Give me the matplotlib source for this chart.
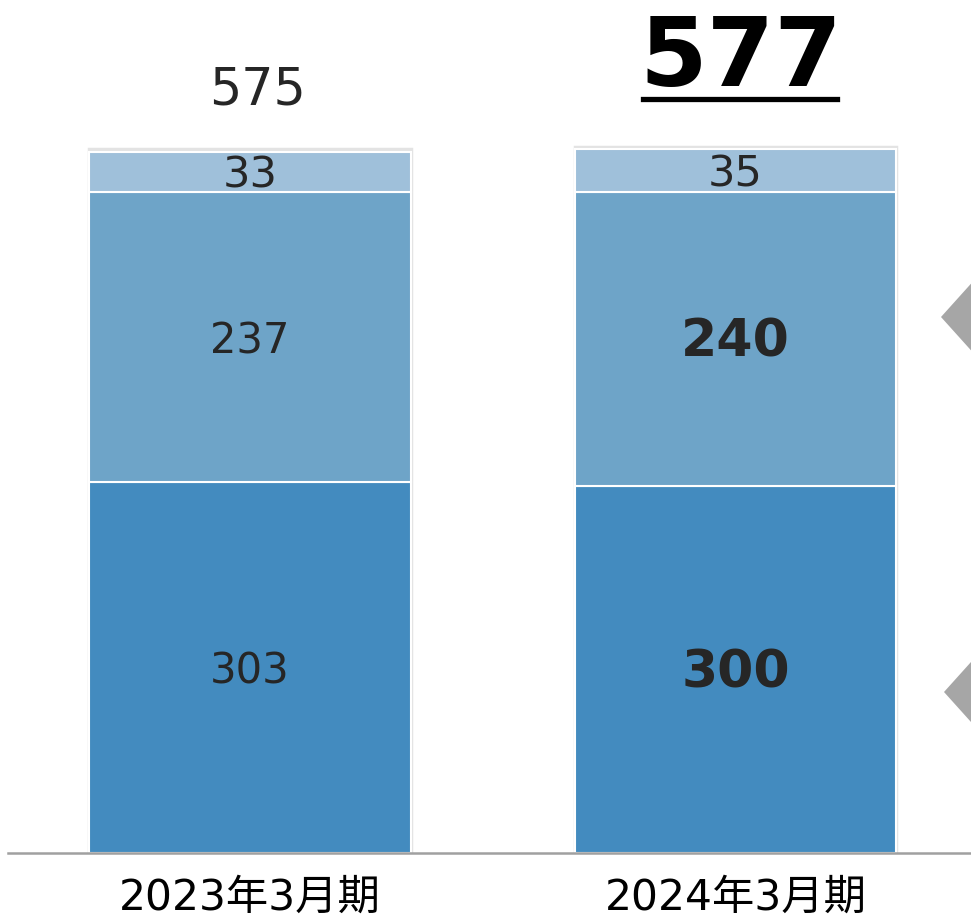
import matplotlib
matplotlib.use("Agg")
import matplotlib.pyplot as plt
from matplotlib.patches import Polygon
from matplotlib.lines import Line2D
from matplotlib.transforms import offset_copy

categories = ["2023年3月期", "2024年3月期"]
bottom_vals = [303, 300]
middle_vals = [237, 240]
top_vals = [33, 35]
totals = [575, 577]

colors = ["#438BBF", "#6EA4C8", "#9FC0DA"]
plt.rcParams['font.family'] = ['DejaVu Sans', 'Noto Sans CJK JP']

W, H = 971, 918
fig = plt.figure(figsize=(W / 100, H / 100), dpi=100)
ax = fig.add_axes([8 / W, 65 / H, 1 - 8 / W, 853 / H])

x = [0, 1]
width = 0.663

# soft outline behind bars
ax.bar(x, totals, width, color='none', edgecolor='#E3E3E3', linewidth=2.5, zorder=1.5)
b1 = ax.bar(x, bottom_vals, width, color=colors[0], edgecolor='white', linewidth=1.5, zorder=2)
b2 = ax.bar(x, middle_vals, width, bottom=bottom_vals, color=colors[1], edgecolor='white', linewidth=1.5, zorder=2)
mid_top = [a + b for a, b in zip(bottom_vals, middle_vals)]
b3 = ax.bar(x, top_vals, width, bottom=mid_top, color=colors[2], edgecolor='white', linewidth=1.5, zorder=2)

txt_color = '#262626'
down = offset_copy(ax.transData, fig=fig, x=0, y=-4, units='dots')
for i in x:
    bold = 'bold' if i == 1 else 'normal'
    fs = 30 if i == 0 else 37.5
    ax.text(i, bottom_vals[i] / 2, str(bottom_vals[i]), ha='center', va='center',
            fontsize=fs, color=txt_color, fontweight=bold, transform=down, zorder=3)
    ax.text(i, bottom_vals[i] + middle_vals[i] / 2, str(middle_vals[i]), ha='center', va='center',
            fontsize=fs, color=txt_color, fontweight=bold, transform=down, zorder=3)
    ax.text(i, mid_top[i] + top_vals[i] / 2, str(top_vals[i]), ha='center', va='center',
            fontsize=31, color=txt_color, transform=down, zorder=3)

ax.annotate(str(totals[0]), xy=(0, totals[0]), xytext=(5, 32), textcoords='offset points',
            ha='center', va='baseline', fontsize=36.5, color=txt_color)
t2 = ax.annotate(str(totals[1]), xy=(1, totals[1]), xytext=(3.6, 44), textcoords='offset points',
                 ha='center', va='baseline', fontsize=70, fontweight='bold', color='black')

ax.set_xlim(-0.4985, 1.485)
ax.set_ylim(0, 853 / 1.224)
ax.set_xticks(x)
ax.set_xticklabels(categories, fontsize=30.5, color='black')
ax.tick_params(axis='x', length=0, pad=17)
ax.set_yticks([])
for s in ['top', 'left', 'right']:
    ax.spines[s].set_visible(False)
ax.spines['bottom'].set_color('#A0A0A0')
ax.spines['bottom'].set_linewidth(1.8)

# underline under the highlighted total
fig.canvas.draw()
bb = t2.get_window_extent()
uy = bb.y0 + 7
fig.add_artist(Line2D([bb.x0 + 4, bb.x1 - 5], [uy, uy], transform=None, color='black', linewidth=3.8))

# decorative grey arrow heads at right edge
for vx, vy in [(941, 317), (944, 692)]:
    yy = H - vy
    poly = Polygon([(vx, yy), (vx + 45, yy + 50), (vx + 90, yy), (vx + 45, yy - 50)],
                   closed=True, transform=None, facecolor='#A6A6A6', edgecolor='none')
    fig.add_artist(poly)

fig.savefig('out.png', dpi=100)
